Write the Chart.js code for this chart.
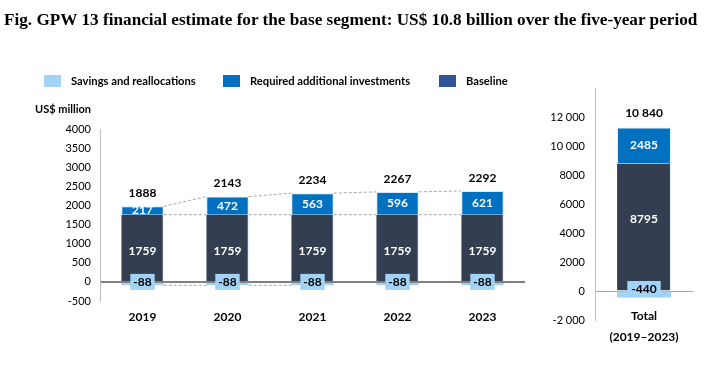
<!DOCTYPE html>
<html><head><meta charset="utf-8">
<script src="https://cdn.jsdelivr.net/npm/chart.js@4"></script>
<style>
html,body{margin:0;padding:0;background:#fff;width:709px;height:374px;overflow:hidden;position:relative;font-family:Lato,sans-serif}
#title{position:absolute;left:4px;top:10px;line-height:18px;font:bold 17.2px "Liberation Serif",serif;white-space:nowrap;color:#000;z-index:2}
.leg{position:absolute;top:74px;height:14px;font:bold 11.2px Lato;color:#000;white-space:nowrap;z-index:2}
.leg .box{position:absolute;left:0;top:1px;width:17px;height:12px}
.leg .t{position:absolute;left:27px;top:0;line-height:14px}
#unit{position:absolute;left:35px;top:102px;line-height:14px;font:bold 11px Lato;z-index:2}
canvas{position:absolute;top:0}
</style></head>
<body>
<div id="title">Fig. GPW 13 financial estimate for the base segment: US$ 10.8 billion over the five-year period</div>
<div id="legend"></div>
<div id="unit">US$ million</div>
<canvas id="c1" width="545" height="374" style="left:0"></canvas>
<canvas id="c2" width="164" height="374" style="left:545px"></canvas>
<script>
// ---- data ----
const years = ['2019', '2020', '2021', '2022', '2023'];
const savings = [-88, -88, -88, -88, -88];
const baseline = [1759, 1759, 1759, 1759, 1759];
const required = [217, 472, 563, 596, 621];
const yearTotals = [1888, 2143, 2234, 2267, 2292];

const totalCategory = [['Total', '(2019–2023)']];
const totalSavings = [-440];
const totalBaseline = [8795];
const totalRequired = [2485];
const grandTotal = ['10 840'];

const leftTickValues = [-500, 0, 500, 1000, 1500, 2000, 2500, 3000, 3500, 4000];
const rightTickValues = [-2000, 0, 2000, 4000, 6000, 8000, 10000, 12000];
const rightTickLabels = ['-2 000', '0', '2000', '4000', '6000', '8000', '10 000', '12 000'];

const seriesNames = ['Savings and reallocations', 'Required additional investments', 'Baseline'];

// ---- styles ----
const C_SAV = '#A1D3F6', C_REQ = '#0070C0', C_BASE = '#333F50', C_BASE_LEG = '#2F5597', C_EDGE = '#D6EBF9';
Chart.defaults.font.family = 'Lato';
Chart.defaults.color = '#000';

// legend (HTML)
const legPos = [44, 223, 439];
const legCol = [C_SAV, C_REQ, C_BASE_LEG];
const legEl = document.getElementById('legend');
seriesNames.forEach((n, i) => {
  const d = document.createElement('div');
  d.className = 'leg'; d.style.left = legPos[i] + 'px';
  d.innerHTML = '<span class="box" style="background:' + legCol[i] + '"></span><span class="t">' + n + '</span>';
  legEl.appendChild(d);
});

const valueLabels = {
  id: 'valueLabels',
  afterDatasetsDraw(chart, args, opts) {
    const ctx = chart.ctx;
    const ds = chart.data.datasets;
    const mS = chart.getDatasetMeta(0), mB = chart.getDatasetMeta(1), mR = chart.getDatasetMeta(2);
    const zero = chart.scales.y.getPixelForValue(0);
    ctx.save();
    ctx.font = 'bold 12px Lato';
    ctx.textAlign = 'center';
    ctx.textBaseline = 'middle';
    mB.data.forEach((b, i) => {
      const r = mR.data[i], s = mS.data[i];
      ctx.fillStyle = '#fff';
      ctx.fillText(String(ds[1].data[i]), b.x, (b.y + b.base) / 2 + (opts.baseShift || 0));
      ctx.fillText(String(ds[2].data[i]), r.x, (r.y + r.base) / 2);
      const txt = String(ds[0].data[i]);
      const w = ctx.measureText(txt).width + opts.boxPad;
      const cy = zero - opts.boxLift;
      ctx.fillStyle = C_SAV;
      ctx.fillRect(s.x - w / 2, cy - 8, w, 16);
      ctx.fillStyle = '#000';
      ctx.fillText(txt, s.x, cy);
      ctx.fillText(String(opts.totals[i]), r.x, r.y - opts.totalGap);
    });
    ctx.restore();
  }
};

// category labels drawn inside the plot (as in the reference, the "Total" label sits above the axis bottom)
const catLabels = {
  id: 'catLabels',
  afterDraw(chart, args, opts) {
    const ctx = chart.ctx, xs = chart.scales.x;
    ctx.save();
    ctx.font = 'bold 12px Lato';
    ctx.fillStyle = '#000';
    ctx.textAlign = 'center';
    ctx.textBaseline = 'middle';
    chart.data.labels.forEach((lab, i) => {
      const lines = Array.isArray(lab) ? lab : [lab];
      lines.forEach((ln, k) => ctx.fillText(ln, xs.getPixelForValue(i), opts.y0 + k * opts.gap));
    });
    ctx.restore();
  }
};

const connectors = {
  id: 'connectors',
  afterDatasetsDraw(chart) {
    const ctx = chart.ctx;
    const mS = chart.getDatasetMeta(0), mB = chart.getDatasetMeta(1), mR = chart.getDatasetMeta(2);
    ctx.save();
    ctx.strokeStyle = '#a6a6a6';
    ctx.lineWidth = 1;
    ctx.setLineDash([3, 2]);
    const seg = (a, b) => {
      ctx.beginPath();
      ctx.moveTo(a.x + a.width / 2, a.y);
      ctx.lineTo(b.x - b.width / 2, b.y);
      ctx.stroke();
    };
    for (let i = 0; i < mR.data.length - 1; i++) {
      seg(mR.data[i], mR.data[i + 1]);
      seg(mB.data[i], mB.data[i + 1]);
      if (i < 2) seg(mS.data[i], mS.data[i + 1]);
    }
    ctx.restore();
  }
};

function datasets(sv, bs, rq, bp) {
  return [
    { label: seriesNames[0], data: sv, backgroundColor: C_SAV, barPercentage: bp, categoryPercentage: 1 },
    { label: seriesNames[2], data: bs, backgroundColor: C_BASE, borderColor: C_EDGE, borderWidth: { left: 0, right: 1, top: 0, bottom: 0 }, barPercentage: bp, categoryPercentage: 1 },
    { label: seriesNames[1], data: rq, backgroundColor: C_REQ, borderColor: C_EDGE, borderWidth: { left: 1, right: 1, top: 1, bottom: 0 }, barPercentage: bp, categoryPercentage: 1 }
  ];
}

new Chart(document.getElementById('c1'), {
  type: 'bar',
  data: { labels: years, datasets: datasets(savings, baseline, required, 0.5) },
  options: {
    responsive: false, animation: false,
    layout: { padding: { top: 129, bottom: 33, left: 0, right: 20 } },
    plugins: {
      legend: { display: false }, tooltip: { enabled: false },
      valueLabels: { totals: yearTotals, totalGap: 13, boxPad: 6, boxLift: 0, baseShift: 3 }
    },
    scales: {
      x: {
        stacked: true,
        grid: { display: false },
        border: { display: false },
        ticks: { font: { size: 12, weight: 'bold' }, padding: 1 },
        afterFit(s) { s.height = 40; }
      },
      y: {
        stacked: true, min: -500, max: 4000,
        afterBuildTicks(s) { s.ticks = leftTickValues.map(v => ({ value: v })); },
        afterFit(s) { s.width = 100; },
        ticks: { font: { size: 11 }, padding: 9, callback: v => String(v) },
        grid: {
          drawTicks: false,
          color: c => (c.tick && c.tick.value === 0) ? '#808080' : 'rgba(0,0,0,0)',
          lineWidth: 2
        },
        border: { color: '#bfbfbf', width: 1 }
      }
    }
  },
  plugins: [connectors, valueLabels]
});

new Chart(document.getElementById('c2'), {
  type: 'bar',
  data: { labels: totalCategory, datasets: datasets(totalSavings, totalBaseline, totalRequired, 0.55) },
  options: {
    responsive: false, animation: false,
    layout: { padding: { top: 88, bottom: 14, left: 0, right: 16 } },
    plugins: {
      legend: { display: false }, tooltip: { enabled: false },
      valueLabels: { totals: grandTotal, totalGap: 14, boxPad: 8, boxLift: 2, baseShift: -8 },
      catLabels: { y0: 316, gap: 21 }
    },
    scales: {
      x: {
        stacked: true,
        grid: { display: false },
        border: { display: false },
        ticks: { display: false },
        afterFit(s) { s.height = 40; }
      },
      y: {
        stacked: true, min: -2000, max: 14000,
        afterBuildTicks(s) { s.ticks = rightTickValues.map(v => ({ value: v })); },
        afterFit(s) { s.width = 50; },
        ticks: { font: { size: 11 }, padding: 10, callback: (v) => rightTickLabels[rightTickValues.indexOf(v)] },
        grid: {
          drawTicks: false,
          color: c => (c.tick && c.tick.value === 0) ? '#a6a6a6' : 'rgba(0,0,0,0)',
          lineWidth: 1
        },
        border: { color: '#bfbfbf', width: 1 }
      }
    }
  },
  plugins: [valueLabels, catLabels]
});
</script>
</body></html>
